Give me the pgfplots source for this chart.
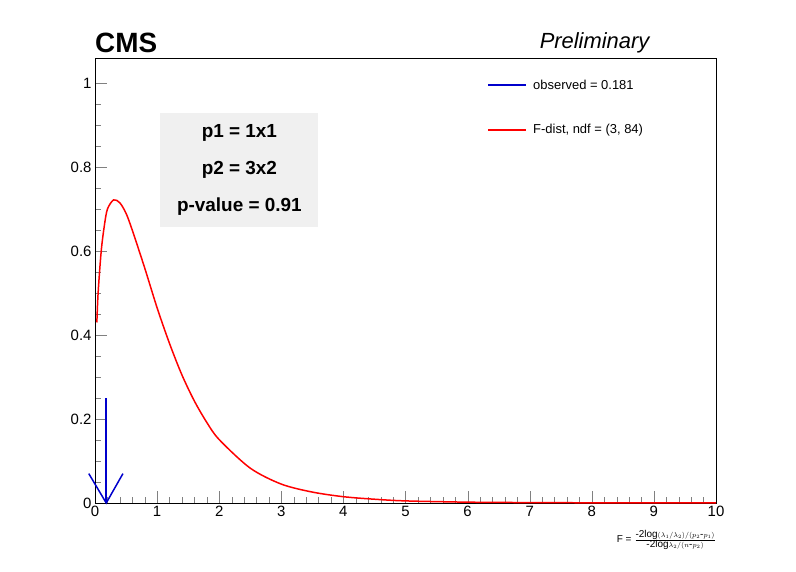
\documentclass[border=0pt]{standalone}
\usepackage{pgfplots}
\pgfplotsset{compat=1.18}
\usepackage{fontspec}
\setmainfont{Liberation Sans}
\begin{document}
\begin{tikzpicture}
\begin{axis}[
  scale only axis, width=621bp, height=445bp,
  xmin=0, xmax=10, ymin=0, ymax=1.06,
  axis line style={line width=0.6pt},
  xtick={0,...,10}, ytick={0,0.2,0.4,0.6,0.8,1},
  yticklabels={0,0.2,0.4,0.6,0.8,1},
  minor x tick num=4, minor y tick num=3,
  tick pos=left, tick align=inside,
  major tick length=12bp, minor tick length=6bp,
  tick label style={font=\fontsize{15}{17}\selectfont},
  /pgf/number format/assume math mode=true,
  clip=false,
]
\addplot[blue!80!black, line width=1.5pt] coordinates {(0.181,0.25) (0.181,0)};
\addplot[red, line width=1.5pt, smooth] coordinates {
(0.03,0.43)(0.05,0.50)(0.1,0.60)(0.15,0.66)(0.2,0.70)(0.3,0.722)(0.4,0.715)(0.5,0.69)
(0.6,0.65)(0.8,0.56)(1.0,0.465)(1.2,0.38)(1.4,0.305)(1.6,0.243)(1.8,0.192)(2.0,0.151)
(2.5,0.083)(3.0,0.045)(3.5,0.026)(4.0,0.015)(4.5,0.009)(5.0,0.005)(6.0,0.002)
(7.0,0.001)(8.0,0.0005)(10.0,0.0002)};
\addplot[blue!80!black, line width=1.5pt] coordinates {(-0.1,0.07) (0.181,0) (0.45,0.07)};
\draw[blue!80!black, line width=1.5pt] (rel axis cs:0.633,0.939) -- (rel axis cs:0.694,0.939);
\node[anchor=west, font=\fontsize{13}{15}\selectfont] at (rel axis cs:0.7,0.939) {observed = 0.181};
\draw[red, line width=1.5pt] (rel axis cs:0.633,0.838) -- (rel axis cs:0.694,0.838);
\node[anchor=west, font=\fontsize{13}{15}\selectfont] at (rel axis cs:0.7,0.838) {F-dist, ndf = (3, 84)};
\node[fill=black!6, inner sep=0pt, minimum width=158bp, minimum height=114bp,
  anchor=north west, align=center, font=\bfseries\fontsize{19}{37}\selectfont]
  at (axis cs:1.05,0.929) {p1 = 1x1\\p2 = 3x2\\p-value = 0.91};
\node[anchor=south west, font=\bfseries\fontsize{28}{30}\selectfont, inner sep=0pt]
  at (rel axis cs:0,1.012) {CMS};
\node[anchor=south east, font=\itshape\fontsize{22}{24}\selectfont, inner sep=0pt]
  at (rel axis cs:0.893,1.01) {Preliminary};
\node[anchor=north east, font=\fontsize{10}{12}\selectfont, inner sep=0pt]
  at (rel axis cs:1.0,-0.06) {F = $\frac{\textrm{-2log}(\lambda_1/\lambda_2)/(p_2\textrm{-}p_1)}{\textrm{-2log}\lambda_2/(n\textrm{-}p_2)}$};
\end{axis}
\pgfresetboundingbox
\path[use as bounding box] (current axis.south west) ++(-95bp,-69bp) rectangle ++(796bp,572bp);
\end{tikzpicture}
\end{document}
